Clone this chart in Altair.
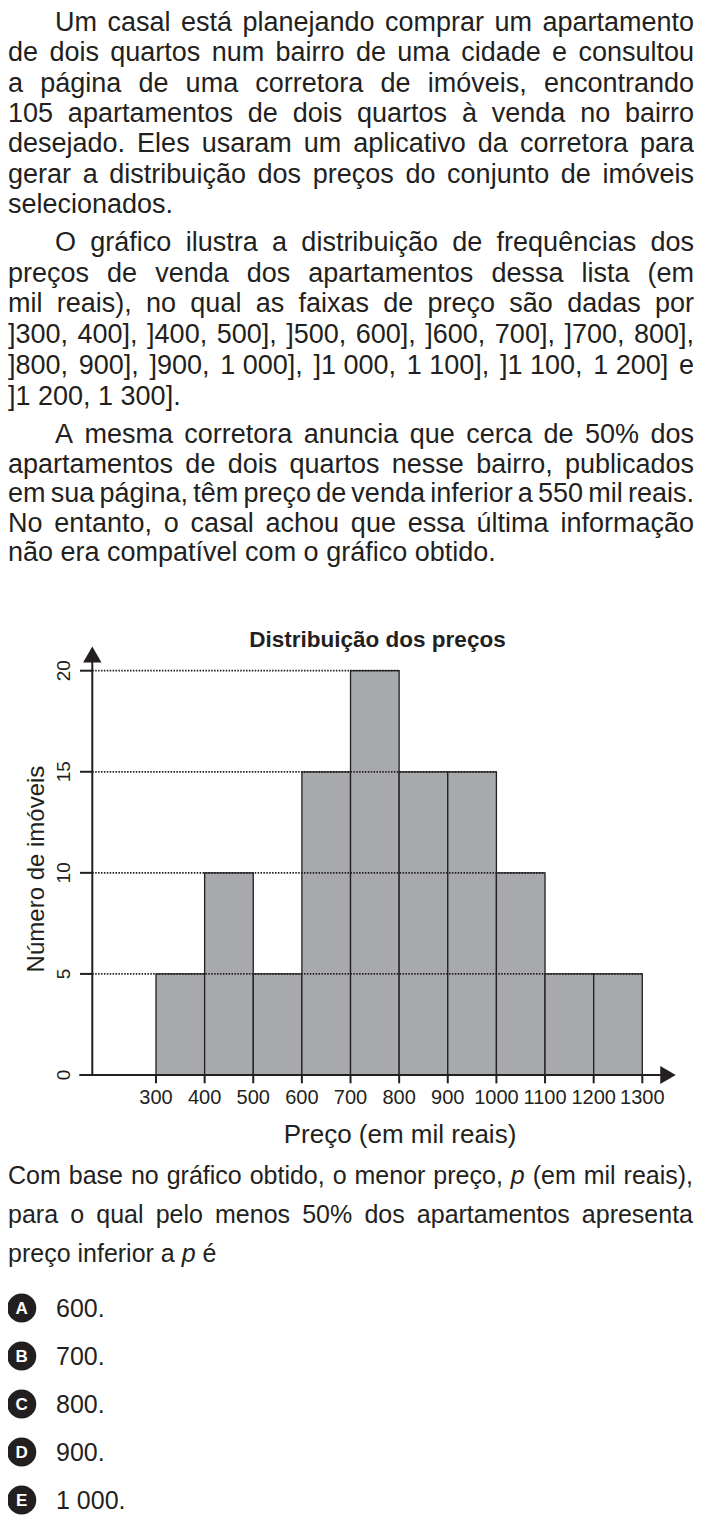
import altair as alt
import pandas as pd

# price classes (thousand reais) and number of flats in each
bin_start = [300, 400, 500, 600, 700, 800, 900, 1000, 1100, 1200]
bin_end = [400, 500, 600, 700, 800, 900, 1000, 1100, 1200, 1300]
counts = [5, 10, 5, 15, 20, 15, 15, 10, 5, 5]

x_ticks = [300, 400, 500, 600, 700, 800, 900, 1000, 1100, 1200, 1300]
x_tick_labels = ["300", "400", "500", "600", "700", "800", "900", "1000", "1100", "1200", "1300"]
y_ticks = [0, 5, 10, 15, 20]
y_tick_labels = ["0", "5", "10", "15", "20"]
grid_levels = [5, 10, 15, 20]

chart_title = "Distribuição dos preços"
x_title = "Preço (em mil reais)"
y_title = "Número de imóveis"

NB = "\u00a0"
para1 = [
    "Um casal está planejando comprar um apartamento",
    "de dois quartos num bairro de uma cidade e consultou",
    "a página de uma corretora de imóveis, encontrando",
    "105 apartamentos de dois quartos à venda no bairro",
    "desejado. Eles usaram um aplicativo da corretora para",
    "gerar a distribuição dos preços do conjunto de imóveis",
    "selecionados.",
]
para2 = [
    "O gráfico ilustra a distribuição de frequências dos",
    "preços de venda dos apartamentos dessa lista (em",
    "mil reais), no qual as faixas de preço são dadas por",
    "]300, 400], ]400, 500], ]500, 600], ]600, 700], ]700, 800],",
    f"]800, 900], ]900, 1{NB}000], ]1{NB}000, 1{NB}100], ]1{NB}100, 1{NB}200] e",
    f"]1{NB}200, 1{NB}300].",
]
para3 = [
    "A mesma corretora anuncia que cerca de 50% dos",
    "apartamentos de dois quartos nesse bairro, publicados",
    "em sua página, têm preço de venda inferior a 550 mil reais.",
    "No entanto, o casal achou que essa última informação",
    "não era compatível com o gráfico obtido.",
]
question = [
    "Com base no gráfico obtido, o menor preço, p (em mil reais),",
    "para o qual pelo menos 50% dos apartamentos apresenta",
    "preço inferior a p é",
]
option_letters = ["A", "B", "C", "D", "E"]
option_values = ["600.", "700.", "800.", "900.", f"1{NB}000."]

INK = "#231f20"
FILL = "#a7a9ac"
FONT = "Liberation Sans, Arial, sans-serif"

# Arial / Liberation Sans advance widths (1/1000 em), used to justify lines
ARIAL = {}
for chars, w in [
    (" " + NB + ",.[]!ftíI", 278), ("()r", 333), ("cksvxyzçJ", 500),
    ("abdeghnopqu0123456789áàâãéêóôõúL", 556), ("ijl", 222), ("FTZ", 611),
    ("ABEKPSVXY", 667), ("CDHNRUw", 722), ("GOQ", 778), ("mM", 833),
    ("%", 889), ("W", 944),
]:
    for c in chars:
        ARIAL[c] = w


def text_width(s, size):
    return sum(ARIAL.get(c, 556) for c in s) * size / 1000


def set_lines(lines, y0, step, size, left, right, indent=0):
    rows = []
    for i, line in enumerate(lines):
        words = line.split(" ")
        x0 = left + (indent if i == 0 else 0)
        widths = [text_width(w, size) for w in words]
        gap = text_width(" ", size)
        if i < len(lines) - 1 and len(words) > 1:
            gap = (right - x0 - sum(widths)) / (len(words) - 1)
        x = x0
        for w, wd in zip(words, widths):
            rows.append({"px": x, "py": y0 + i * step, "text": w, "size": size,
                         "italic": w == "p"})
            x += wd + gap
    return rows


rows = (set_lines(para1, 22.7, 30.4, 27, 0, 686, indent=47)
        + set_lines(para2, 242.7, 30.8, 27, 0, 686, indent=47)
        + set_lines(para3, 435, 29.6, 27, 0, 686, indent=47)
        + set_lines(question, 1176, 39, 25, 0, 685))
words = pd.DataFrame(rows)

PX = alt.X("px:Q", scale=None, axis=None)
PY = alt.Y("py:Q", scale=None, axis=None)
PS = alt.Size("size:Q", scale=None, legend=None)


def words_layer(df, style):
    return alt.Chart(df).mark_text(
        align="left", baseline="alphabetic", font=FONT, color=INK, fontStyle=style
    ).encode(x=PX, y=PY, size=PS, text="text:N")


upright = words_layer(words[~words["italic"]], "normal")
italic = words_layer(words[words["italic"]], "italic")

# histogram scales mapped onto the page area of the figure
XS = alt.Scale(domain=[300, 1300], range=[148.0, 634.3], nice=False, zero=False)
YS = alt.Scale(domain=[0, 20], range=[1067.0, 662.7], nice=False, zero=False)
AXIS_PX = 84.3
AXIS_X = 300 + (AXIS_PX - 148.0) * 1000 / (634.3 - 148.0)
BASE_PY = 1067.0

hist = pd.DataFrame({"start": bin_start, "end": bin_end, "count": counts, "base": 0})
bars = alt.Chart(hist).mark_rect(fill=FILL, stroke=INK, strokeWidth=1.3).encode(
    x=alt.X("start:Q", scale=XS, axis=None), x2="end:Q",
    y=alt.Y("count:Q", scale=YS, axis=None), y2="base:Q",
)

grid_df = pd.DataFrame({
    "level": grid_levels,
    "x0": AXIS_X,
    "end": [max(e for e, c in zip(bin_end, counts) if c >= lv) for lv in grid_levels],
})
grid = alt.Chart(grid_df).mark_rule(color=INK, strokeWidth=1.7, strokeDash=[1.5, 1.4]).encode(
    x=alt.X("x0:Q", scale=XS, axis=None), x2="end:Q",
    y=alt.Y("level:Q", scale=YS, axis=None),
)

one = pd.DataFrame({"k": [0]})
y_axis = alt.Chart(one).mark_rule(color=INK, strokeWidth=2).encode(
    x=alt.value(AXIS_PX), y=alt.value(652), y2=alt.value(BASE_PY))
x_axis = alt.Chart(one).mark_rule(color=INK, strokeWidth=2).encode(
    x=alt.value(71.3), x2=alt.value(656), y=alt.value(BASE_PY))
y_arrow = alt.Chart(one).mark_point(shape="triangle-up", filled=True, size=340,
                                    color=INK, opacity=1).encode(
    x=alt.value(AXIS_PX), y=alt.value(646.5))
x_arrow = alt.Chart(one).mark_point(shape="triangle-right", filled=True, size=320,
                                    color=INK, opacity=1).encode(
    x=alt.value(660), y=alt.value(BASE_PY))

xt = pd.DataFrame({"v": x_ticks, "label": x_tick_labels})
yt = pd.DataFrame({"v": y_ticks, "label": y_tick_labels})
x_tick_marks = alt.Chart(xt).mark_rule(color=INK, strokeWidth=2).encode(
    x=alt.X("v:Q", scale=XS, axis=None), y=alt.value(BASE_PY), y2=alt.value(BASE_PY + 8.3))
y_tick_marks = alt.Chart(yt).mark_rule(color=INK, strokeWidth=2).encode(
    y=alt.Y("v:Q", scale=YS, axis=None), x=alt.value(72), x2=alt.value(AXIS_PX))
x_labels = alt.Chart(xt).mark_text(font=FONT, fontSize=20, color=INK, align="center",
                                   baseline="alphabetic").encode(
    x=alt.X("v:Q", scale=XS, axis=None), y=alt.value(1095.5), text="label:N")
y_labels = alt.Chart(yt).mark_text(font=FONT, fontSize=19, color=INK, align="center",
                                   baseline="alphabetic", angle=270).encode(
    y=alt.Y("v:Q", scale=YS, axis=None), x=alt.value(62), text="label:N")

title = alt.Chart(one).mark_text(text=chart_title, font=FONT, fontSize=22.5, fontWeight="bold",
                                 color=INK, align="center", baseline="alphabetic").encode(
    x=alt.value(369.5), y=alt.value(638.7))
x_name = alt.Chart(one).mark_text(text=x_title, font=FONT, fontSize=26, color=INK,
                                  align="center", baseline="alphabetic").encode(
    x=alt.value(392), y=alt.value(1135))
y_name = alt.Chart(one).mark_text(text=y_title, font=FONT, fontSize=24, color=INK,
                                  align="center", baseline="alphabetic", angle=270).encode(
    x=alt.value(35.5), y=alt.value(861))

opts = pd.DataFrame({"letter": option_letters, "value": option_values})
opts["cy"] = [1300 + 48 * i for i in range(len(opts))]
opts["ly"] = opts["cy"] + 6
opts["vy"] = opts["cy"] + 9
discs = alt.Chart(opts).mark_point(shape="circle", filled=True, size=850, color=INK,
                                   opacity=1).encode(
    x=alt.value(13.7), y=alt.Y("cy:Q", scale=None, axis=None))
letters = alt.Chart(opts).mark_text(font=FONT, fontSize=17, fontWeight="bold", color="white",
                                    align="center", baseline="alphabetic").encode(
    x=alt.value(13.7), y=alt.Y("ly:Q", scale=None, axis=None), text="letter:N")
values = alt.Chart(opts).mark_text(font=FONT, fontSize=25, color=INK, align="left",
                                   baseline="alphabetic").encode(
    x=alt.value(48), y=alt.Y("vy:Q", scale=None, axis=None), text="value:N")

chart = alt.layer(
    upright, italic, bars, grid, x_tick_marks, y_tick_marks, x_axis, y_axis,
    x_arrow, y_arrow, x_labels, y_labels, title, x_name, y_name, discs, letters, values,
).resolve_scale(
    x="independent", y="independent", size="independent"
).properties(
    width=686, height=1507, padding=0, autosize=alt.AutoSizeParams(type="none"),
).configure_view(strokeWidth=0)

chart.save("out.html", embed_options={"renderer": "svg", "actions": False})
